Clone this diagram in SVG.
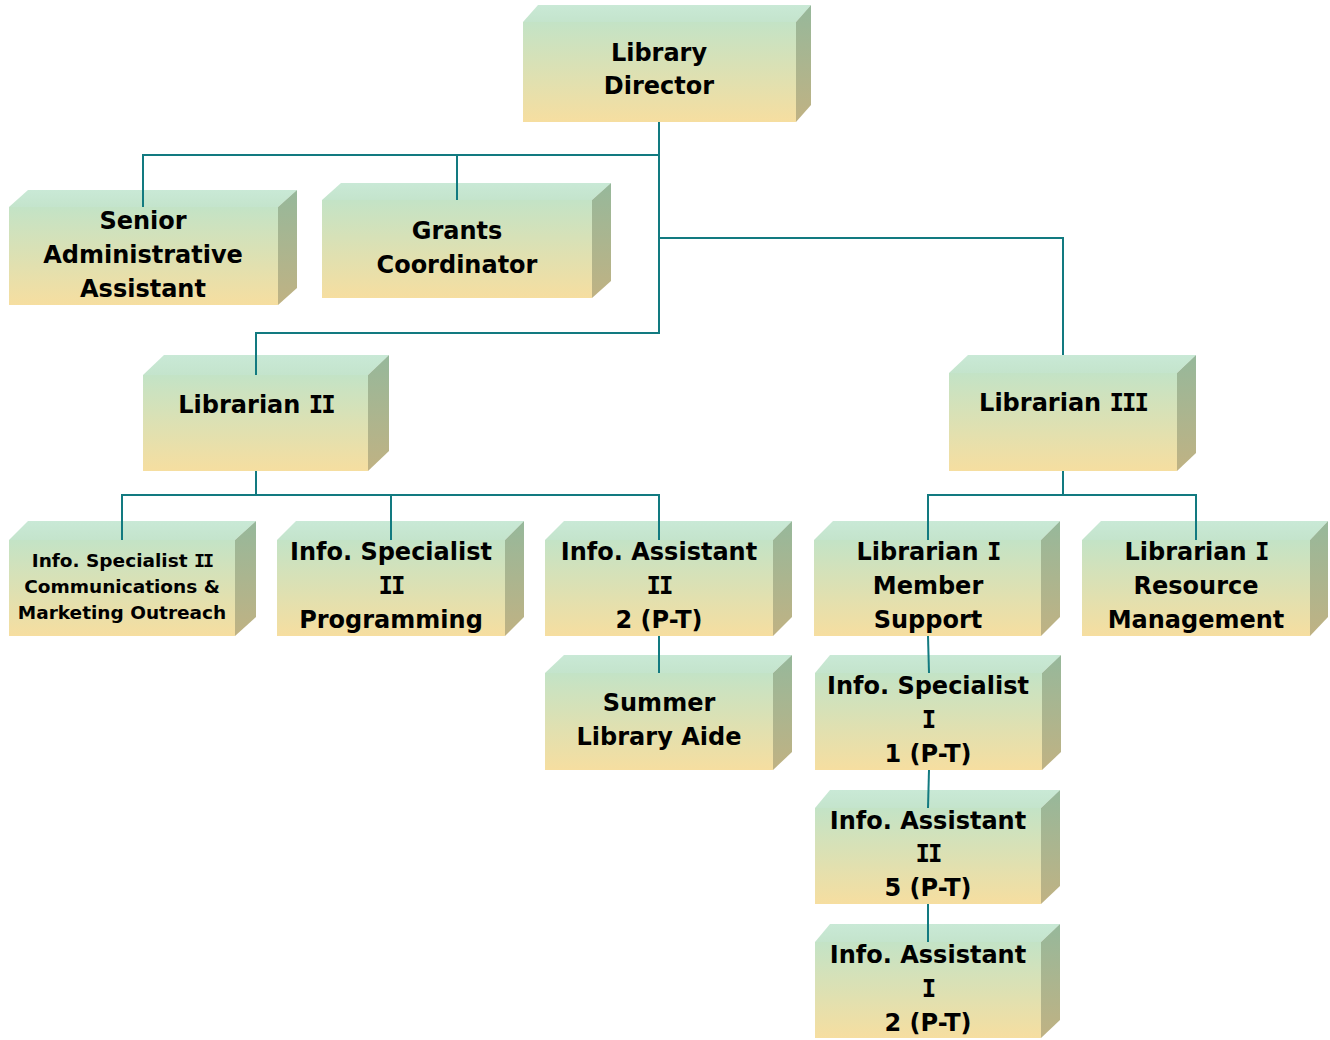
<svg xmlns="http://www.w3.org/2000/svg" width="1330" height="1040" viewBox="0 0 1330 1040">
<defs>
<linearGradient id="gf" x1="0" y1="0" x2="0" y2="1"><stop offset="0" stop-color="#c3e3c6"/><stop offset="1" stop-color="#f6dea0"/></linearGradient>
<linearGradient id="gt" x1="0" y1="0" x2="0" y2="1"><stop offset="0" stop-color="#c9e9d6"/><stop offset="1" stop-color="#c4e4cc"/></linearGradient>
<linearGradient id="gs" x1="0" y1="0" x2="0" y2="1"><stop offset="0" stop-color="#96b89b"/><stop offset="1" stop-color="#c0b283"/></linearGradient>
<style>
.f{fill:url(#gf)}.t{fill:url(#gt)}.s{fill:url(#gs)}
text{font-family:"DejaVu Sans","Verdana",sans-serif;font-weight:bold;font-size:24px;fill:#000;text-anchor:middle}
text.sm{font-size:18.5px}
.r{font-family:"DejaVu Sans Mono",monospace;letter-spacing:-2px}
.c{stroke:#127a80;stroke-width:2;fill:none}
</style>
</defs>
<g id="director">
<polygon class="t" points="523,22 538,5 811,5 796,22"/><polygon class="s" points="796,22 811,5 811,105 796,122"/><rect class="f" x="523" y="22" width="273" height="100"/>
<text x="659" y="61">Library</text><text x="659" y="94">Director</text></g>
<g id="senior">
<polygon class="t" points="9,207 28,190 297,190 278,207"/><polygon class="s" points="278,207 297,190 297,288 278,305"/><rect class="f" x="9" y="207" width="269" height="98"/>
<text x="143" y="229">Senior</text><text x="143" y="263">Administrative</text><text x="143" y="297">Assistant</text></g>
<g id="grants">
<polygon class="t" points="322,200 341,183 611,183 592,200"/><polygon class="s" points="592,200 611,183 611,281 592,298"/><rect class="f" x="322" y="200" width="270" height="98"/>
<text x="457" y="239">Grants</text><text x="457" y="273">Coordinator</text></g>
<g id="lib2">
<polygon class="t" points="143,375 164,355 389,355 368,375"/><polygon class="s" points="368,375 389,355 389,451 368,471"/><rect class="f" x="143" y="375" width="225" height="96"/>
<text x="256" y="413">Librarian <tspan class="r">II</tspan></text></g>
<g id="lib3">
<polygon class="t" points="949,373 968,355 1196,355 1177,373"/><polygon class="s" points="1177,373 1196,355 1196,453 1177,471"/><rect class="f" x="949" y="373" width="228" height="98"/>
<text x="1063" y="411">Librarian <tspan class="r">III</tspan></text></g>
<g id="infospec2comm">
<polygon class="t" points="9,540 28,521 256,521 235,540"/><polygon class="s" points="235,540 256,521 256,617 235,636"/><rect class="f" x="9" y="540" width="226" height="96"/>
<text class="sm" x="122" y="567">Info. Specialist <tspan class="r">II</tspan></text><text class="sm" x="122" y="593">Communications &amp;</text><text class="sm" x="122" y="619">Marketing Outreach</text></g>
<g id="infospec2prog">
<polygon class="t" points="277,540 296,521 524,521 505,540"/><polygon class="s" points="505,540 524,521 524,617 505,636"/><rect class="f" x="277" y="540" width="228" height="96"/>
<text x="391" y="560">Info. Specialist</text><text x="391" y="594"><tspan class="r">II</tspan></text><text x="391" y="628">Programming</text></g>
<g id="infoasst2a">
<polygon class="t" points="545,540 564,521 792,521 773,540"/><polygon class="s" points="773,540 792,521 792,617 773,636"/><rect class="f" x="545" y="540" width="228" height="96"/>
<text x="659" y="560">Info. Assistant</text><text x="659" y="594"><tspan class="r">II</tspan></text><text x="659" y="628">2 (P-T)</text></g>
<g id="summer">
<polygon class="t" points="545,673 564,655 792,655 773,673"/><polygon class="s" points="773,673 792,655 792,752 773,770"/><rect class="f" x="545" y="673" width="228" height="97"/>
<text x="659" y="711">Summer</text><text x="659" y="745">Library Aide</text></g>
<g id="lib1member">
<polygon class="t" points="814,540 833,521 1060,521 1041,540"/><polygon class="s" points="1041,540 1060,521 1060,617 1041,636"/><rect class="f" x="814" y="540" width="227" height="96"/>
<text x="928" y="560">Librarian <tspan class="r">I</tspan></text><text x="928" y="594">Member</text><text x="928" y="628">Support</text></g>
<g id="lib1resource">
<polygon class="t" points="1082,540 1101,521 1328,521 1310,540"/><polygon class="s" points="1310,540 1328,521 1328,617 1310,636"/><rect class="f" x="1082" y="540" width="228" height="96"/>
<text x="1196" y="560">Librarian <tspan class="r">I</tspan></text><text x="1196" y="594">Resource</text><text x="1196" y="628">Management</text></g>
<g id="infospec1">
<polygon class="t" points="815,673 830,655 1061,655 1042,673"/><polygon class="s" points="1042,673 1061,655 1061,752 1042,770"/><rect class="f" x="815" y="673" width="227" height="97"/>
<text x="928" y="694">Info. Specialist</text><text x="928" y="728"><tspan class="r">I</tspan></text><text x="928" y="762">1 (P-T)</text></g>
<g id="infoasst2b">
<polygon class="t" points="815,808 830,790 1060,790 1041,808"/><polygon class="s" points="1041,808 1060,790 1060,886 1041,904"/><rect class="f" x="815" y="808" width="226" height="96"/>
<text x="928" y="829">Info. Assistant</text><text x="928" y="862"><tspan class="r">II</tspan></text><text x="928" y="896">5 (P-T)</text></g>
<g id="infoasst1">
<polygon class="t" points="815,942 830,924 1060,924 1041,942"/><polygon class="s" points="1041,942 1060,924 1060,1020 1041,1038"/><rect class="f" x="815" y="942" width="226" height="96"/>
<text x="928" y="963">Info. Assistant</text><text x="928" y="997"><tspan class="r">I</tspan></text><text x="928" y="1031">2 (P-T)</text></g>
<g id="connectors">
<polyline class="c" points="659,122 659,333 256,333 256,375"/>
<polyline class="c" points="143,207 143,155 659,155"/>
<line class="c" x1="457" y1="155" x2="457" y2="200"/>
<polyline class="c" points="659,238 1063,238 1063,355"/>
<polyline class="c" points="256,471 256,495"/>
<polyline class="c" points="122,540 122,495 659,495 659,540"/>
<line class="c" x1="391" y1="495" x2="391" y2="540"/>
<line class="c" x1="659" y1="636" x2="659" y2="673"/>
<polyline class="c" points="1063,471 1063,495"/>
<polyline class="c" points="928,540 928,495 1196,495 1196,540"/>
<line class="c" x1="928" y1="636" x2="929" y2="673"/>
<line class="c" x1="929" y1="770" x2="928" y2="808"/>
<line class="c" x1="928" y1="904" x2="928" y2="942"/>
</g>
</svg>
